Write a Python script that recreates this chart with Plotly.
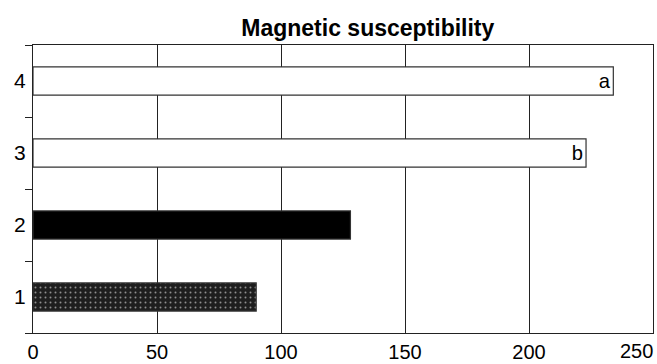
import plotly.graph_objects as go

categories = [1, 2, 3, 4]
values = [90, 128, 223, 234]
bar_labels = ["", "", "b", "a"]
x_tickvals = [0, 50, 100, 150, 200, 250]
x_ticktext = ["0", "50", "100", "150", "200", "250"]
y_ticktext = ["1", "2", "3", "4"]
title_text = "Magnetic susceptibility"

FONT = "Liberation Sans, Arial, sans-serif"
fills = ["#1e1e1e", "#000000", "#ffffff", "#ffffff"]
shapes = [".", "", "", ""]

fig = go.Figure()
fig.add_trace(go.Bar(
    x=values, y=categories, orientation="h", width=0.39,
    marker=dict(color=fills, line=dict(color="#333333", width=1.2),
                pattern=dict(shape=shapes, fgcolor="#8a8a8a", size=5, solidity=0.12)),
    text=bar_labels, textposition="inside", insidetextanchor="end", textangle=0,
    textfont=dict(family=FONT, size=21, color="black"),
    hoverinfo="skip",
))

fig.update_layout(
    width=657, height=364,
    margin=dict(l=33, r=4, t=45, b=31),
    paper_bgcolor="white", plot_bgcolor="white",
    showlegend=False,
    title=dict(text="<b>%s</b>" % title_text, x=0.54, xref="paper", xanchor="center",
               y=1 - 28 / 364, yref="container", yanchor="middle",
               font=dict(family=FONT, size=23, color="black")),
    font=dict(family=FONT, color="black"),
)
# last x tick label is right-aligned to its tick so it stays inside the picture
fig.add_annotation(x=x_tickvals[-1], xref="x", y=0, yref="paper", yanchor="top",
                   xanchor="right", yshift=-6, xshift=1, showarrow=False,
                   text=x_ticktext[-1], borderpad=0,
                   font=dict(family=FONT, size=20, color="black"))
fig.update_xaxes(
    range=[0, 250], tickvals=x_tickvals, ticktext=x_ticktext[:-1] + [""],
    showgrid=True, gridcolor="#222222", gridwidth=1,
    showline=True, linecolor="#222222", linewidth=1, mirror=True,
    ticks="", ticklabelstandoff=1, zeroline=False, automargin=False,
    tickfont=dict(family=FONT, size=20, color="black"),
)
fig.update_yaxes(
    range=[0.5, 4.5], tickvals=categories, ticktext=y_ticktext,
    showgrid=False, showline=True, linecolor="#222222", linewidth=1, mirror=True,
    ticks="", ticklabelstandoff=2, zeroline=False, automargin=False,
    minor=dict(tickvals=[0.5, 1.5, 2.5, 3.5, 4.5], ticks="outside", ticklen=7,
               tickcolor="#222222", showgrid=False),
    tickfont=dict(family=FONT, size=21, color="black"),
)
fig.write_html("out.html", config={"displayModeBar": False, "staticPlot": True},
               post_script="document.body.style.margin='0';document.body.style.overflow='hidden';")
